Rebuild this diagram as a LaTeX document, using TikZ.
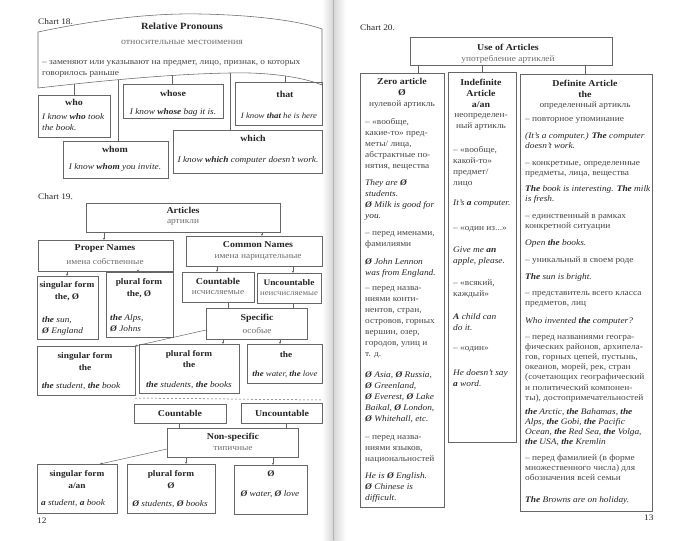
\documentclass[tikz,border=0pt]{standalone}
\usepackage{fontspec}
\setmainfont{Liberation Serif}[FakeStretch=1.1]
\usetikzlibrary{arrows.meta}
\definecolor{txt}{HTML}{262626}
\definecolor{rub}{HTML}{474747}
\definecolor{ruc}{HTML}{6E6E6E}
\definecolor{linec}{HTML}{666666}
\newcommand\bx[5]{\node[box,minimum width={(#4-#2)*1pt},minimum height={(#5-#3)*1pt}] (#1) at (#2,#3) {};}
\newcommand\Zr{\textbf{Ø}}
\begin{document}
\begin{tikzpicture}[x=1pt,y=-1pt,
  box/.style={draw=linec,line width=0.55pt,inner sep=0pt,outer sep=0pt,anchor=north west},
  hd/.style={font=\fontsize{9}{11}\selectfont\bfseries,text=txt,inner sep=0pt,align=center},
  hds/.style={font=\fontsize{8.5}{11.5}\selectfont\bfseries,text=txt,inner sep=0pt,align=center},
  ru/.style={font=\fontsize{8.5}{11}\selectfont,text=ruc,inner sep=0pt,align=center},
  bdc/.style={font=\fontsize{8.5}{11}\selectfont,text=rub,inner sep=0pt,align=center},
  bd/.style={font=\fontsize{8.5}{11}\selectfont,text=rub,inner sep=0pt,align=left,anchor=base west},
  bdd/.style={font=\fontsize{8.5}{10.1}\selectfont,text=rub,inner sep=0pt,align=left,anchor=base west},
  ex/.style={font=\fontsize{8.5}{11}\selectfont\itshape,text=txt,inner sep=0pt,align=left,anchor=base west},
  exd/.style={font=\fontsize{8.5}{10.1}\selectfont\itshape,text=txt,inner sep=0pt,align=left,anchor=base west},
  exc/.style={font=\fontsize{8.5}{11}\selectfont\itshape,text=txt,inner sep=0pt,align=center},
  ln/.style={draw=linec,line width=0.5pt},
  arr/.style={ln,-{Stealth[length=2.4pt,width=2.2pt]}},
  lbl/.style={font=\fontsize{8.5}{11}\selectfont,text=txt,inner sep=0pt,anchor=base west}]
\useasboundingbox (0,0) rectangle (687,540);
\fill[white] (0,0) rectangle (687,540);
% gutter
\shade[left color=white,right color=black!16] (322,0) rectangle (333,540);
\shade[left color=black!16,right color=white] (333,0) rectangle (346,540);
\draw[black!30,line width=0.8pt] (333,0) -- (333,540);

% ---------------- Chart 18
\node[lbl] (c18) at (38,25) {Chart 18.};
\draw[ln,line width=0.55pt] (38,32) .. controls (95,20) and (150,13) .. (200,14) .. controls (255,15) and (300,21) .. (322,29) -- (322,85) .. controls (300,76) and (262,72) .. (230,73) .. controls (170,74) and (100,81) .. (38,88) -- cycle;
\coordinate (b74) at (74,84);
\coordinate (b118) at (118,79.7);
\coordinate (b172) at (172,75.3);
\coordinate (b230) at (230,73);
\coordinate (b285) at (285,75.6);
\node[hd,font=\fontsize{9.5}{11}\selectfont\bfseries] (t18) at (182,26) {Relative Pronouns};
\node[ru,font=\fontsize{9}{11}\selectfont] (s18) at (182,42) {относительные местоимения};
\node[bd] (d18) at (42,76) {– заменяют или указывают на предмет, лицо, признак, о которых\\говорилось раньше};

\bx{who}{38}{95}{110}{137}
\node[hd] (who-h) at (74,102) {who};
\node[ex] (who-e) at (42,130.5) {I know \textbf{who} took\\the book.};
\bx{whose}{123}{84}{223}{118}
\node[hd] (whose-h) at (173,93) {whose};
\node[exc] (whose-e) at (173,112) {I know \textbf{whose} bag it is.};
\bx{that}{235}{82}{322}{125}
\node[hd] (that-h) at (285,94) {that};
\node[exc,font=\fontsize{8}{10}\selectfont\itshape] (that-e) at (279,116) {I know \textbf{that} he is here};
\bx{whom}{63}{141}{168}{178}
\node[hd] (whom-h) at (115,149) {whom};
\node[exc] (whom-e) at (115,167) {I know \textbf{whom} you invite.};
\bx{which}{173}{130}{322}{173}
\node[hd] (which-h) at (253,138) {which};
\node[exc] (which-e) at (248,160) {I know \textbf{which} computer doesn’t work.};
\draw[ln] (who.north -| 74,0) -- (b74);
\draw[ln] (whose.north -| 172,0) -- (b172);
\draw[ln] (that.north -| 285,0) -- (b285);
\draw[ln] (whom.north -| 118,0) -- (b118);
\draw[ln] (which.north -| 230,0) -- (b230);

% ---------------- Chart 19
\node[lbl] (c19) at (38,199) {Chart 19.};
\bx{art}{86}{203}{280}{232}
\node[hd] (art-h) at (183,210) {Articles};
\node[ru] (art-r) at (183,222) {артикли};
\bx{prop}{38}{240}{173}{271}
\node[hd] (prop-h) at (105,249) {Proper Names};
\node[ru] (prop-r) at (105,261) {имена собственные};
\bx{comm}{186}{236}{322}{266}
\node[hd] (comm-h) at (258,245) {Common Names};
\node[ru] (comm-r) at (258,257) {имена нарицательные};
\bx{sing1}{37}{276}{98}{339}
\node[hds] (sing1-h) at (67,291) {singular form\\the, \Zr};
\node[ex] (sing1-e) at (42,333) {\textbf{the} sun,\\\Zr\ England};
\bx{plur1}{106}{272}{173}{337}
\node[hds] (plur1-h) at (139,288) {plural form\\the, \Zr};
\node[ex] (plur1-e) at (110,331) {\textbf{the} Alps,\\\Zr\ Johns};
\bx{cnt1}{182}{272}{254}{302}
\node[hd] (cnt1-h) at (218,281) {Countable};
\node[ru] (cnt1-r) at (218,293) {исчисляемые};
\bx{unc1}{257}{273}{321}{303}
\node[hds] (unc1-h) at (289,283) {Uncountable};
\node[ru,font=\fontsize{8}{10}\selectfont] (unc1-r) at (289,294) {неисчисляемые};
\bx{spec}{206}{308}{307}{339}
\node[hd] (spec-h) at (257,318) {Specific};
\node[ru] (spec-r) at (257,330) {особые};
\bx{sing2}{37}{346}{135}{395}
\node[hds] (sing2-h) at (85,361.5) {singular form\\the};
\node[exc] (sing2-e) at (81,386) {\textbf{the} student, \textbf{the} book};
\bx{plur2}{139}{344}{239}{393}
\node[hds] (plur2-h) at (189,359) {plural form\\the};
\node[exc] (plur2-e) at (189,385) {\textbf{the} students, \textbf{the} books};
\bx{the2}{247}{344}{322}{383}
\node[hds] (the2-h) at (286,355) {the};
\node[exc,font=\fontsize{8}{10}\selectfont\itshape] (the2-e) at (285,374) {\textbf{the} water, \textbf{the} love};
\coordinate (dsA) at (135,398);
\coordinate (dsB) at (322,400);
\draw[ln,dash pattern=on 2pt off 2pt] (dsA) -- (dsB);
\bx{cnt2}{134}{404}{226}{423}
\node[hd] (cnt2-h) at (180,413.5) {Countable};
\bx{unc2}{241}{403}{322}{423}
\node[hd] (unc2-h) at (282,413.5) {Uncountable};
\bx{nons}{167}{428}{298}{457}
\node[hd] (nons-h) at (233,437) {Non-specific};
\node[ru] (nons-r) at (233,449) {типичные};
\bx{sing3}{37}{464}{117}{513}
\node[hds] (sing3-h) at (77,479.5) {singular form\\a/an};
\node[exc] (sing3-e) at (73,503) {\textbf{a} student, \textbf{a} book};
\bx{plur3}{127}{464}{215}{513}
\node[hds] (plur3-h) at (171,479.5) {plural form\\Ø};
\node[exc] (plur3-e) at (170,504) {\Zr\ students, \Zr\ books};
\bx{zer3}{234}{465}{307}{514}
\node[hds] (zer3-h) at (271,474) {Ø};
\node[exc] (zer3-e) at (270,494) {\Zr\ water, \Zr\ love};
\node[lbl] (p12) at (37,523) {12};

\draw[arr] (art.south -| 104,0) -- (prop.north -| 104,0);
\draw[arr] (art.south -| 262,0) -- (comm.north -| 262,0);
\draw[arr] (prop.south -| 67,0) -- (sing1.north -| 67,0);
\draw[arr] (prop.south -| 138,0) -- (plur1.north -| 138,0);
\draw[arr] (comm.south -| 217,0) -- (cnt1.north -| 217,0);
\draw[arr] (comm.south -| 293,0) -- (unc1.north -| 293,0);
\draw[ln] (cnt1.south -| 228,0) -- (spec.north -| 228,0);
\draw[ln] (unc1.south -| 293,0) -- (spec.north -| 293,0);
\draw[arr] (spec.west |- 0,330) -- (sing2.north east);
\draw[arr] (spec.south -| 223,0) -- (plur2.north -| 223,0);
\draw[arr] (spec.south -| 280,0) -- (the2.north -| 280,0);
\draw[ln] (cnt2.south -| 179,0) -- (nons.north -| 179,0);
\draw[ln] (unc2.south -| 286,0) -- (nons.north -| 286,0);
\draw[arr] (nons.west |- 0,449) -- (sing3.north -| 100,0);
\draw[arr] (nons.south -| 186,0) -- (plur3.north -| 186,0);
\draw[arr] (nons.south -| 273,0) -- (zer3.north -| 273,0);

% ---------------- Chart 20
\node[lbl] (c20) at (360,31) {Chart 20.};
\bx{use}{410}{37}{612}{65}
\node[hd] (use-h) at (508,47) {Use of Articles};
\node[ru] (use-r) at (508,59) {употребление артиклей};
\bx{zero}{360}{73}{444}{507}
\bx{indf}{448}{72}{516}{442}
\bx{defa}{520}{74}{652}{511}
\draw[ln] (use.south -| 418,0) -- (zero.north -| 418,0);
\draw[ln] (use.south -| 482,0) -- (indf.north -| 482,0);
\draw[ln] (use.south -| 585,0) -- (defa.north -| 585,0);

% zero article column
\node[hd] (zero-h) at (402,87) {Zero article\\Ø};
\node[bdc] (zero-r) at (402,105) {нулевой артикль};
\node[bd] (z1) at (365,168.5) {– «вообще,\\какие-то» пред-\\меты/ лица,\\абстрактные по-\\нятия, вещества};
\node[ex] (z2) at (365,218.5) {They are \Zr\\students.\\\Zr\ Milk is good for\\you.};
\node[bd] (z3) at (365,246.5) {– перед именами,\\фамилиями};
\node[ex] (z4) at (365,275.5) {\Zr\ John Lennon\\was from England.};
\node[bd] (z5) at (365,356.5) {– перед назва-\\ниями конти-\\нентов, стран,\\островов, горных\\вершин, озер,\\городов, улиц и\\т. д.};
\node[ex] (z6) at (365,421) {\Zr\ Asia, \Zr\ Russia,\\\Zr\ Greenland,\\\Zr\ Everest, \Zr\ Lake\\Baikal, \Zr\ London,\\\Zr\ Whitehall, etc.};
\node[bd] (z7) at (365,461.5) {– перед назва-\\ниями языков,\\национальностей};
\node[ex] (z8) at (365,500.5) {He is \Zr\ English.\\\Zr\ Chinese is\\difficult.};

% indefinite article column
\node[hd] (indf-h) at (481,93) {Indefinite\\Article\\a/an};
\node[bdc] (indf-r) at (481,121.5) {неопределен-\\ный артикль};
\node[bd] (i1) at (453,185.5) {– «вообще,\\какой-то»\\предмет/\\лицо};
\node[ex] (i2) at (453,205.5) {It’s \textbf{a} computer.};
\node[bd] (i3) at (453,230.5) {– «один из...»};
\node[ex] (i4) at (453,263.5) {Give me \textbf{an}\\apple, please.};
\node[bd] (i5) at (453,296.5) {– «всякий,\\каждый»};
\node[ex] (i6) at (453,330.5) {\textbf{A} child can\\do it.};
\node[bd] (i7) at (453,350.5) {– «один»};
\node[ex] (i8) at (453,386.5) {He doesn’t say\\\textbf{a} word.};

% definite article column
\node[hd] (defa-h) at (585,88.5) {Definite Article\\the};
\node[bdc] (defa-r) at (585,105) {определенный артикль};
\node[bdd] (d1) at (525,121.5) {– повторное упоминание};
\node[exd] (d2) at (525,148.6) {(It’s a computer.) \textbf{The} computer\\doesn’t work.};
\node[bdd] (d3) at (525,175.6) {– конкретные, определенные\\предметы, лица, вещества};
\node[exd] (d4) at (525,201.6) {\textbf{The} book is interesting. \textbf{The} milk\\is fresh.};
\node[bdd] (d5) at (525,228.6) {– единственный в рамках\\конкретной ситуации};
\node[exd] (d6) at (525,245.5) {Open \textbf{the} books.};
\node[bdd] (d7) at (525,262.5) {– уникальный в своем роде};
\node[exd] (d8) at (525,279.5) {\textbf{The} sun is bright.};
\node[bdd] (d9) at (525,305.6) {– представитель всего класса\\предметов, лиц};
\node[exd] (d10) at (525,323.5) {Who invented \textbf{the} computer?};
\node[bdd] (d11) at (525,400.1) {– перед названиями геогра-\\фических районов, архипела-\\гов, горных цепей, пустынь,\\океанов, морей, рек, стран\\(сочетающих географический\\и политический компонен-\\ты), достопримечательностей};
\node[exd] (d12) at (525,444.8) {\textbf{the} Arctic, \textbf{the} Bahamas, \textbf{the}\\Alps, \textbf{the} Gobi, \textbf{the} Pacific\\Ocean, \textbf{the} Red Sea, \textbf{the} Volga,\\\textbf{the} USA, \textbf{the} Kremlin};
\node[bdd] (d13) at (525,480.7) {– перед фамилией (в форме\\множественного числа) для\\обозначения всей семьи};
\node[exd] (d14) at (525,502.5) {\textbf{The} Browns are on holiday.};
\node[lbl] (p13) at (644,520) {13};
\end{tikzpicture}
\end{document}
